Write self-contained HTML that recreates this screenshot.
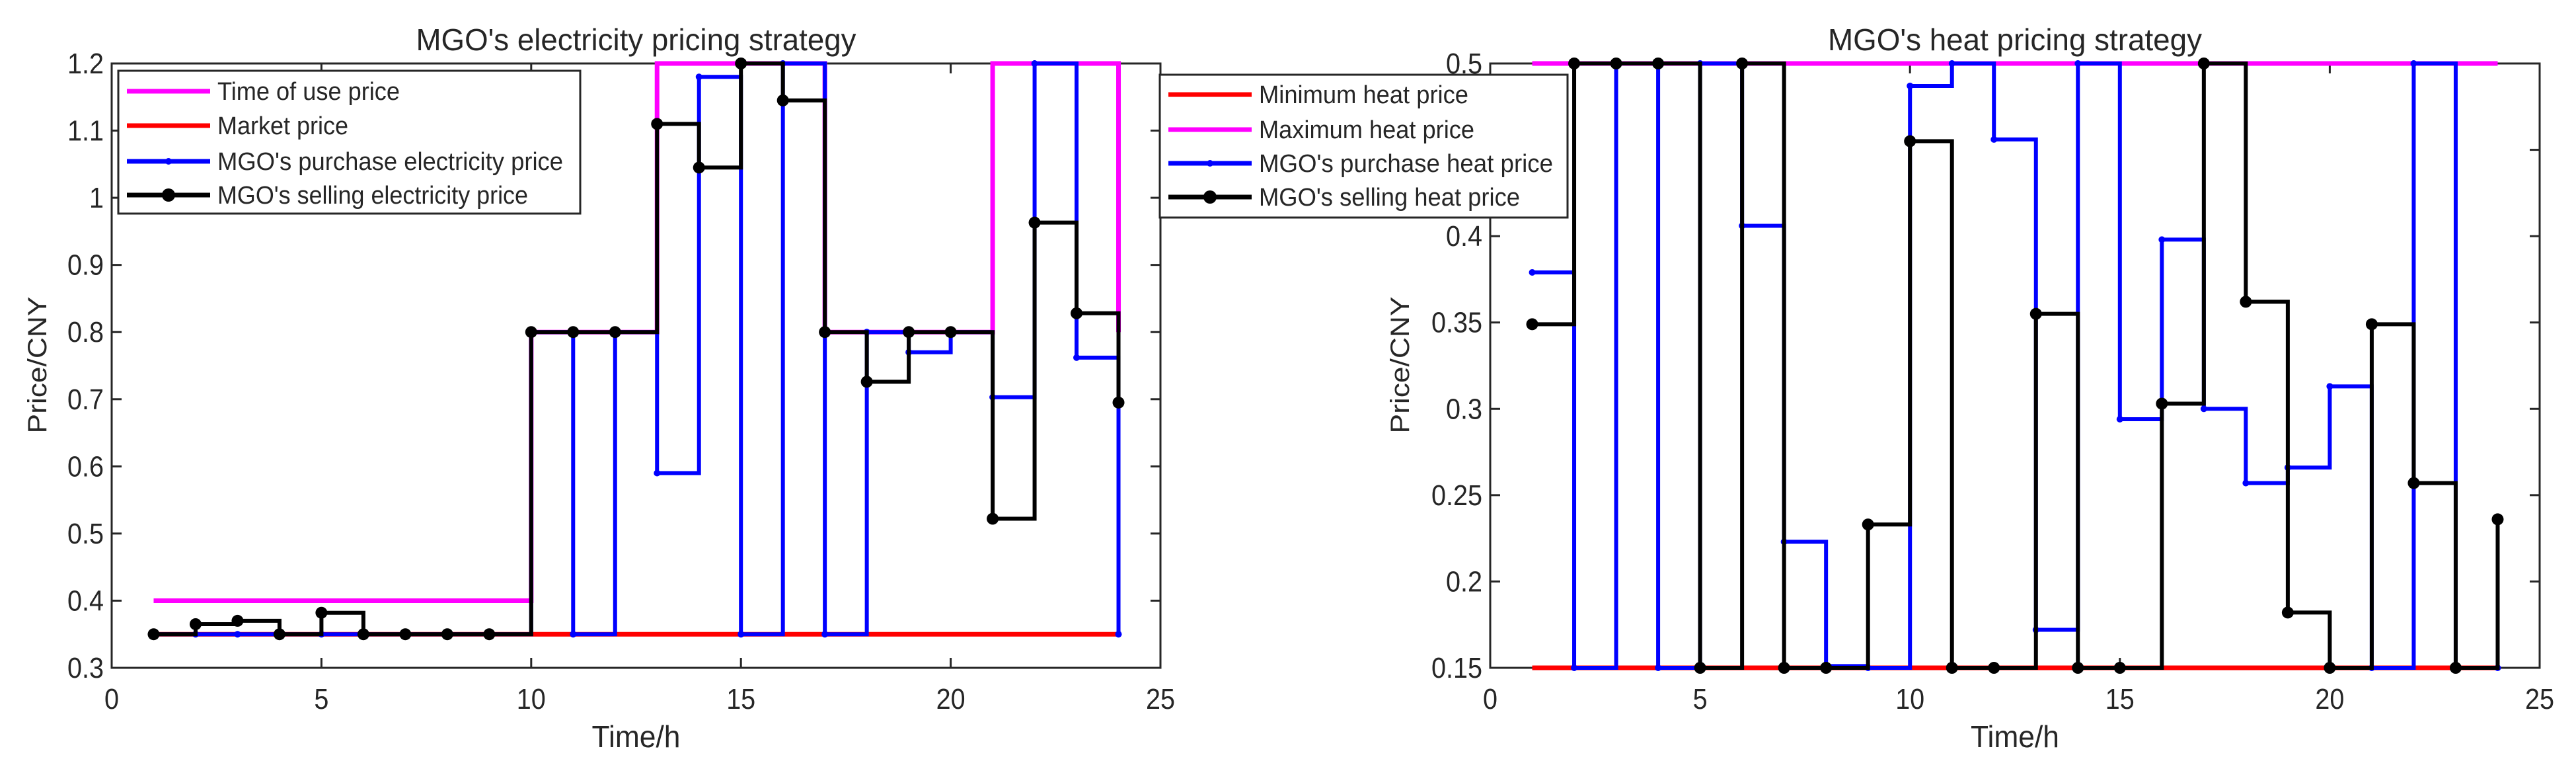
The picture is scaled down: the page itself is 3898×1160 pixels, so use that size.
<!DOCTYPE html>
<html><head><meta charset="utf-8"><style>
html,body{margin:0;padding:0;background:#fff;}
svg{display:block;}
text{font-family:"Liberation Sans Narrow","Liberation Sans",sans-serif;fill:#262626;}
</style></head><body>
<svg id="chart" width="3898" height="1160" viewBox="0 0 3898 1160" xmlns="http://www.w3.org/2000/svg"></svg>
<script>
// ---- data ----
const hours = [1,2,3,4,5,6,7,8,9,10,11,12,13,14,15,16,17,18,19,20,21,22,23,24];
const touPrice = [0.4,0.4,0.4,0.4,0.4,0.4,0.4,0.4,0.4,0.8,0.8,0.8,1.2,1.2,1.2,1.2,0.8,0.8,0.8,0.8,1.2,1.2,1.2,0.8];
const marketPrice = [0.35,0.35,0.35,0.35,0.35,0.35,0.35,0.35,0.35,0.35,0.35,0.35,0.35,0.35,0.35,0.35,0.35,0.35,0.35,0.35,0.35,0.35,0.35,0.35];
const elecBuy = [0.35,0.35,0.35,0.35,0.35,0.35,0.35,0.35,0.35,0.8,0.35,0.8,0.59,1.18,0.35,1.2,0.35,0.8,0.77,0.8,0.703,1.2,0.762,0.35];
const elecSell = [0.35,0.365,0.37,0.35,0.382,0.35,0.35,0.35,0.35,0.8,0.8,0.8,1.11,1.045,1.2,1.145,0.8,0.726,0.8,0.8,0.522,0.963,0.828,0.695];
const heatMin = [0.15,0.15,0.15,0.15,0.15,0.15,0.15,0.15,0.15,0.15,0.15,0.15,0.15,0.15,0.15,0.15,0.15,0.15,0.15,0.15,0.15,0.15,0.15,0.15];
const heatMax = [0.5,0.5,0.5,0.5,0.5,0.5,0.5,0.5,0.5,0.5,0.5,0.5,0.5,0.5,0.5,0.5,0.5,0.5,0.5,0.5,0.5,0.5,0.5,0.5];
const heatBuy = [0.379,0.15,0.5,0.15,0.5,0.406,0.223,0.151,0.15,0.487,0.5,0.456,0.172,0.5,0.294,0.398,0.3,0.257,0.266,0.313,0.15,0.5,0.15,0.15];
const heatSell = [0.349,0.5,0.5,0.5,0.15,0.5,0.15,0.15,0.233,0.455,0.15,0.15,0.355,0.15,0.15,0.303,0.5,0.362,0.182,0.15,0.349,0.257,0.15,0.236];
const xTicks = [0,5,10,15,20,25];
const elecTicks = [0.3,0.4,0.5,0.6,0.7,0.8,0.9,1,1.1,1.2];
const elecTickLabels = ["0.3","0.4","0.5","0.6","0.7","0.8","0.9","1","1.1","1.2"];
const heatTicks = [0.15,0.2,0.25,0.3,0.35,0.4,0.45,0.5];
const heatTickLabels = ["0.15","0.2","0.25","0.3","0.35","0.4","0.45","0.5"];

const NS = "http://www.w3.org/2000/svg";
const svg = document.getElementById("chart");
function mk(tag, attrs, parent){
  const e = document.createElementNS(NS, tag);
  for (const k in attrs) e.setAttribute(k, attrs[k]);
  (parent||svg).appendChild(e);
  return e;
}
function tw(s){ let w=0; for (const ch of String(s)) w += (ch==='.')?11:22; return w; }

function panel(cfg){
  const g = mk("g", {});
  
  
  const L=cfg.x0, R=cfg.x1, T=96, B=1010;
  const sx = v => L + (v-0)/(25-0)*(R-L);
  const sy = v => B - (v-cfg.ymin)/(cfg.ymax-cfg.ymin)*(B-T);

  // axes box first
  const box = mk("rect",{x:L,y:T,width:R-L,height:B-T,fill:"none",stroke:"#262626","stroke-width":3},g);
  
  
  xTicks.forEach(v=>{
    const x=sx(v);
    mk("line",{x1:x,y1:B,x2:x,y2:B-15,stroke:"#262626","stroke-width":3},g);
    mk("line",{x1:x,y1:T,x2:x,y2:T+15,stroke:"#262626","stroke-width":3},g);
    const t = mk("text",{x:x,y:B+62,"font-size":44,"text-anchor":"middle",textLength:tw(v),lengthAdjust:"spacingAndGlyphs"},g);
    t.textContent = v;
    
    
  });
  cfg.ticks.forEach((v,i)=>{
    const y=sy(v);
    mk("line",{x1:L,y1:y,x2:L+15,y2:y,stroke:"#262626","stroke-width":3},g);
    mk("line",{x1:R,y1:y,x2:R-15,y2:y,stroke:"#262626","stroke-width":3},g);
    const t = mk("text",{x:L-12,y:y+15,"font-size":44,"text-anchor":"end",textLength:tw(cfg.tickLabels[i]),lengthAdjust:"spacingAndGlyphs"},g);
    t.textContent = cfg.tickLabels[i];
    
    
  });

  function stairs(vals, color, w, name, marker){
    let d = "M"+sx(hours[0])+","+sy(vals[0]);
    for (let i=1;i<vals.length;i++){
      d += " L"+sx(hours[i])+","+sy(vals[i-1])+" L"+sx(hours[i])+","+sy(vals[i]);
    }
    const p = mk("path",{d:d,fill:"none",stroke:color,"stroke-width":w,"stroke-linejoin":"miter"},g);
    
    
    if (marker){
      for (let i=0;i<vals.length;i++){
        const c = mk("circle",{cx:sx(hours[i]),cy:sy(vals[i]),r:marker,fill:color},g);
        
        
      }
    }
  }
  stairs(cfg.s1, cfg.c1, 7, cfg.n1, 0);
  stairs(cfg.s2, cfg.c2, 7, cfg.n2, 0);
  stairs(cfg.s3, "#0000ff", 6, cfg.n3, 5);
  stairs(cfg.s4, "#000000", 6, cfg.n4, 9);

  const ti = mk("text",{x:(L+R)/2,y:76,"font-size":46,"text-anchor":"middle",fill:"#000",textLength:cfg.titleW,lengthAdjust:"spacingAndGlyphs"},g);
  ti.textContent = cfg.title;
  
  
  const xl = mk("text",{x:(L+R)/2,y:1130,"font-size":46,"text-anchor":"middle",textLength:134,lengthAdjust:"spacingAndGlyphs"},g);
  xl.textContent = "Time/h";
  
  
  const yl = mk("text",{x:0,y:0,"font-size":40,"text-anchor":"middle",style:"font-family:'Liberation Sans',sans-serif",textLength:207,lengthAdjust:"spacingAndGlyphs",transform:"translate("+(cfg.ylx)+",552) rotate(-90)"},g);
  yl.textContent = "Price/CNY";
  
  

  // legend
  const lg = mk("g",{},g);
  
  
  const lb = cfg.legend;
  mk("rect",{x:lb.x,y:lb.y,width:lb.w,height:lb.h,fill:"#fff",stroke:"#262626","stroke-width":3},lg);
  const mr=[0,0,5,10];
  lb.labels.forEach((s,i)=>{
    const y = lb.ys[i];
    const e = mk("g",{},lg);
    
    
    mk("line",{x1:lb.x+13,y1:y,x2:lb.x+139,y2:y,stroke:lb.cols[i],"stroke-width":7},e);
    if (mr[i]) mk("circle",{cx:lb.x+76,cy:y,r:mr[i],fill:lb.cols[i]},e);
    const t = mk("text",{x:lb.x+150,y:y+13,"font-size":38,fill:"#000",textLength:lb.tw[i],lengthAdjust:"spacingAndGlyphs"},e);
    t.textContent = s;
  });
}

panel({name:"electricity-pricing-chart",x0:169,x1:1756,ymin:0.3,ymax:1.2,
  s1:marketPrice,c1:"#ff0000",n1:"market-price-line",
  s2:touPrice,c2:"#ff00ff",n2:"time-of-use-price-line",
  s3:elecBuy,n3:"purchase-electricity-price-line",
  s4:elecSell,n4:"selling-electricity-price-line",
  ticks:elecTicks,tickLabels:elecTickLabels,
  title:"MGO's electricity pricing strategy",titleW:666,ylx:70,
  legend:{x:179,y:107,w:699,h:216,ys:[138,190,244,295],
    cols:["#ff00ff","#ff0000","#0000ff","#000000"],
    labels:["Time of use price","Market price","MGO's purchase electricity price","MGO's selling electricity price"],
    tw:[276,198,523,470]}
});
panel({name:"heat-pricing-chart",x0:2255,x1:3843,ymin:0.15,ymax:0.5,
  s1:heatMin,c1:"#ff0000",n1:"minimum-heat-price-line",
  s2:heatMax,c2:"#ff00ff",n2:"maximum-heat-price-line",
  s3:heatBuy,n3:"purchase-heat-price-line",
  s4:heatSell,n4:"selling-heat-price-line",
  ticks:heatTicks,tickLabels:heatTickLabels,
  title:"MGO's heat pricing strategy",titleW:566,ylx:2132,
  legend:{x:1755,y:113,w:617,h:216,ys:[143,196,247,298],
    cols:["#ff0000","#ff00ff","#0000ff","#000000"],
    labels:["Minimum heat price","Maximum heat price","MGO's purchase heat price","MGO's selling heat price"],
    tw:[317,326,445,395]}
});
</script>
</body></html>
